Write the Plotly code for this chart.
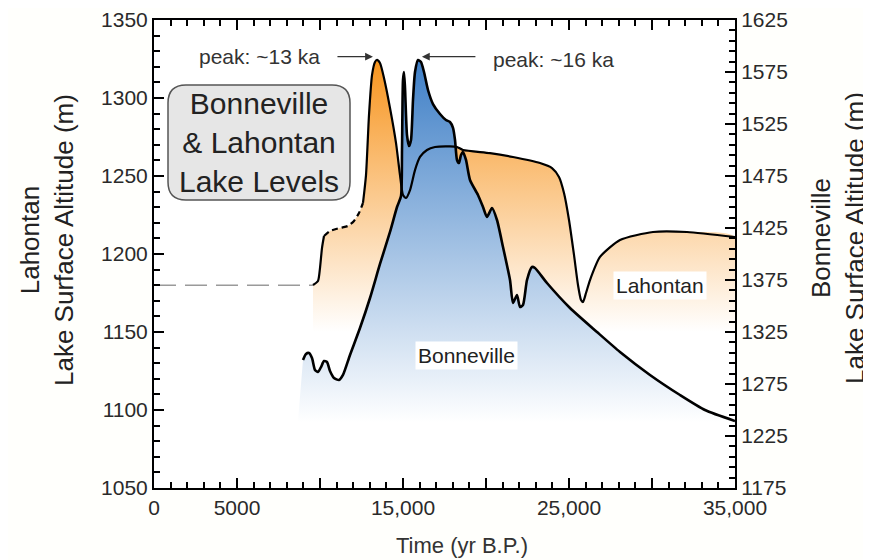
import plotly.graph_objects as go

# ---------------- data ----------------
x_tick_vals = [0, 5000, 10000, 15000, 20000, 25000, 30000, 35000]
x_tick_text = ["0", "5000", "", "15,000", "", "25,000", "", "35,000"]

# Lahontan (left axis, m) -- poorly constrained early level
lahontan_unknown_yr = [0, 9578]
lahontan_unknown_m = [1180, 1180]

lahontan_yr = [9578, 9879, 10000, 10120, 10241, 10602, 11205, 11687, 12048, 12349, 12590,
               12771, 12952, 13133, 13313, 13434, 13614, 13855, 14217, 14578, 14819, 15000,
               15181, 15422, 15723, 16024, 16446, 16928, 17831, 18253, 18614, 20241, 21626,
               23253, 23976, 24397, 24699, 25000, 25301, 25542, 25723, 25843, 26024, 26265,
               26867, 28072, 30060, 32108, 35000]
lahontan_m = [1180.1, 1182.7, 1191.0, 1203.8, 1211.5, 1214.7, 1216.7, 1218.0, 1221.2, 1226.3, 1232.7,
              1250.6, 1289.1, 1314.7, 1323.1, 1324.4, 1322.4, 1312.8, 1293.6, 1271.2, 1250.6, 1237.8,
              1235.9, 1241.0, 1253.8, 1262.2, 1266.7, 1268.6, 1269.0, 1268.6, 1266.7, 1264.7, 1262.2,
              1258.3, 1255.1, 1249.4, 1239.1, 1221.8, 1199.4, 1180.1, 1170.5, 1169.2, 1175.0, 1183.3,
              1198.1, 1209.0, 1214.1, 1214.1, 1210.9]
lahontan_dashed_span = (10241, 12590)

# Bonneville (right axis, m)
bonneville_yr = [8976, 9156, 9337, 9518, 9699, 9879, 10060, 10241, 10422, 10602, 10843, 11144,
                 11385, 11807, 12409, 13012, 13614, 14217, 14639, 14880, 14940, 15000, 15060,
                 15121, 15241, 15361, 15482, 15602, 15723, 15904, 16084, 16265, 16506, 16807,
                 17229, 17590, 17831, 18012, 18133, 18253, 18374, 18494, 18614, 18795, 19036,
                 19518, 19819, 20060, 20361, 20662, 21024, 21446, 21627, 21867, 22048, 22229,
                 22470, 22771, 22952, 23674, 25060, 26687, 28072, 29879, 31687, 33193, 35000]
bonneville_m = [1298.1, 1303.8, 1304.8, 1300.0, 1288.5, 1286.5, 1291.3, 1297.1, 1296.2, 1287.5, 1280.8, 1278.8,
                1283.7, 1302.9, 1328.8, 1357.7, 1390.4, 1421.2, 1445.2, 1455.8, 1500.0, 1567.3, 1575.0,
                1559.6, 1514.4, 1503.8, 1509.6, 1548.1, 1575.0, 1586.5, 1584.6, 1575.0, 1557.7, 1544.2,
                1534.6, 1528.8, 1526.9, 1521.2, 1509.6, 1490.4, 1487.5, 1495.2, 1498.1, 1490.4, 1471.2,
                1456.7, 1445.2, 1435.6, 1444.2, 1432.7, 1406.7, 1375.0, 1352.9, 1360.6, 1349.0, 1351.0,
                1375.0, 1387.5, 1386.5, 1372.1, 1348.1, 1325.0, 1305.8, 1283.7, 1264.4, 1250.0, 1239.4]

LAHONTAN_RANGE = [1050, 1350]
BONNEVILLE_RANGE = [1175, 1625]
LAHONTAN_FILL_BASE = 1140
BONNEVILLE_FILL_BASE = 1228
BONNEVILLE_FILL_START_YR = 8616

# ---------------- styles ----------------
ORANGE = "#F7941D"
BLUE = "#3D7EC6"
FONT = "Liberation Sans, Arial, sans-serif"
W, H = 871, 560
OFF = 8  # page body margin in the browser
PL, PR, PT, PB = 154, 735, 20, 488          # plot area in screen pixels
ML, MR, MT, MB = PL - OFF, W - (PR - OFF), PT - OFF, H - (PB - OFF)
PW, PH = PR - PL, PB - PT


def px(xs, ys):
    """screen pixel -> paper coordinates"""
    return (xs - PL) / PW, (PB - ys) / PH


fig = go.Figure()

# Lahontan fill
lx = lahontan_yr + [lahontan_yr[-1], lahontan_yr[0]]
ly = lahontan_m + [LAHONTAN_FILL_BASE, LAHONTAN_FILL_BASE]
fig.add_trace(go.Scatter(
    x=lx, y=ly, mode="lines", fill="toself", line=dict(width=0, shape="spline", smoothing=0.6),
    fillgradient=dict(type="vertical", colorscale=[[0, "rgba(255,255,255,1)"], [1, ORANGE]],
                      start=1150, stop=1325),
    hoverinfo="skip", showlegend=False, yaxis="y"))

# gray dashed early Lahontan
fig.add_trace(go.Scatter(
    x=lahontan_unknown_yr, y=lahontan_unknown_m, mode="lines",
    line=dict(color="#9a9a9a", width=1.6, dash="22px,9px"), showlegend=False, yaxis="y"))

# Bonneville fill
bx = bonneville_yr + [bonneville_yr[-1], BONNEVILLE_FILL_START_YR]
by = bonneville_m + [BONNEVILLE_FILL_BASE, BONNEVILLE_FILL_BASE]
fig.add_trace(go.Scatter(
    x=bx, y=by, mode="lines", fill="toself", line=dict(width=0, shape="spline", smoothing=0.6),
    fillgradient=dict(type="vertical", colorscale=[[0, "rgba(255,255,255,1)"], [1, BLUE]],
                      start=1238, stop=1590),
    hoverinfo="skip", showlegend=False, yaxis="y2"))

# Bonneville line
fig.add_trace(go.Scatter(
    x=bonneville_yr, y=bonneville_m, mode="lines",
    line=dict(color="black", width=2.6, shape="spline", smoothing=0.6),
    showlegend=False, yaxis="y2"))

# Lahontan line segments (above Bonneville fill)
d0, d1 = lahontan_dashed_span
segs = [
    ([(x, y) for x, y in zip(lahontan_yr, lahontan_m) if x <= d0], "solid"),
    ([(x, y) for x, y in zip(lahontan_yr, lahontan_m) if d0 <= x <= d1], "6px,4px"),
    ([(x, y) for x, y in zip(lahontan_yr, lahontan_m) if x >= d1], "solid"),
]
for pts, dash in segs:
    fig.add_trace(go.Scatter(
        x=[p[0] for p in pts], y=[p[1] for p in pts], mode="lines",
        line=dict(color="black", width=2.2, dash=dash, shape="spline", smoothing=0.6),
        showlegend=False, yaxis="y3"))

tickfont = dict(family=FONT, size=21, color="#2a2a2a")
common = dict(ticks="inside", ticklen=10, tickwidth=2, tickcolor="black",
              showline=True, linewidth=2, linecolor="black",
              showgrid=False, zeroline=False, tickfont=tickfont, automargin=False)
fig.update_layout(
    width=W, height=H,
    margin=dict(l=ML, r=MR, t=MT, b=MB, autoexpand=False),
    paper_bgcolor="#fffffc", plot_bgcolor="white",
    xaxis=dict(range=[0, 35000], tickvals=x_tick_vals, ticktext=x_tick_text, mirror="ticks",
               minor=dict(dtick=1000, tick0=0, ticks="inside", ticklen=6, tickwidth=1.5, tickcolor="black"),
               **common),
    yaxis=dict(range=LAHONTAN_RANGE, tick0=1050, dtick=50,
               minor=dict(dtick=10, tick0=1050, ticks="inside", ticklen=6, tickwidth=1.5, tickcolor="black"),
               **common),
    yaxis2=dict(range=BONNEVILLE_RANGE, tick0=1175, dtick=50, overlaying="y", side="right",
                minor=dict(dtick=10, tick0=1175, ticks="inside", ticklen=6, tickwidth=1.5, tickcolor="black"),
                **common),
    yaxis3=dict(range=LAHONTAN_RANGE, overlaying="y", visible=False, showgrid=False, zeroline=False),
)

# title box (rounded rectangle)
bx0, by0 = px(168, 200)
bx1, by1 = px(350, 85)
rx, ry = 18 / PW, 18 / PH
path = (f"M {bx0+rx},{by0} L {bx1-rx},{by0} Q {bx1},{by0} {bx1},{by0+ry} "
        f"L {bx1},{by1-ry} Q {bx1},{by1} {bx1-rx},{by1} L {bx0+rx},{by1} "
        f"Q {bx0},{by1} {bx0},{by1-ry} L {bx0},{by0+ry} Q {bx0},{by0} {bx0+rx},{by0} Z")
fig.add_shape(type="path", path=path, xref="paper", yref="paper",
              fillcolor="#e6e6e6", line=dict(color="#555", width=1.5), layer="above")

C = dict(xanchor="center", yanchor="middle", showarrow=False)
ann = []
cx, cy = px(259, 143)
ann.append(dict(x=cx, y=cy, xref="paper", yref="paper",
                text="Bonneville<br>&amp; Lahontan<br>Lake Levels",
                font=dict(family=FONT, size=30, color="#222"), **C))

# axis titles
lx_, ly_ = px(47, 240)
ann.append(dict(x=lx_, y=ly_, xref="paper", yref="paper", textangle=-90,
                text="Lahontan<br>Lake Surface Altitude (m)", font=dict(family=FONT, size=26, color="#222"), **C))
rx_, ry_ = px(838, 238)
ann.append(dict(x=rx_, y=ry_, xref="paper", yref="paper", textangle=-90,
                text="Bonneville<br>Lake Surface Altitude (m)", font=dict(family=FONT, size=26, color="#222"), **C))
tx_, ty_ = px(462, 545)
ann.append(dict(x=tx_, y=ty_, xref="paper", yref="paper",
                text="Time (yr B.P.)", font=dict(family=FONT, size=22, color="#333"), **C))

# peak annotations
ann.append(dict(x=6350, y=1326.5, xref="x", yref="y", text="peak: ~13 ka",
                font=dict(family=FONT, size=21, color="#333"), **C))
ann.append(dict(x=13190, y=1326.5, xref="x", yref="y", showarrow=True, ax=-37, ay=0, text="",
                arrowhead=2, arrowsize=1.2, arrowwidth=1.3, arrowcolor="#333"))
ann.append(dict(x=24050, y=1324.5, xref="x", yref="y", text="peak: ~16 ka",
                font=dict(family=FONT, size=21, color="#333"), **C))
ann.append(dict(x=16140, y=1326.5, xref="x", yref="y", showarrow=True, ax=55, ay=0, text="",
                arrowhead=2, arrowsize=1.2, arrowwidth=1.3, arrowcolor="#333"))

# lake labels
ann.append(dict(x=18800, y=1135, xref="x", yref="y", text="Bonneville",
                bgcolor="white", borderpad=2, font=dict(family=FONT, size=21, color="#222"), **C))
ann.append(dict(x=30500, y=1180, xref="x", yref="y", text="Lahontan",
                bgcolor="white", borderpad=2, font=dict(family=FONT, size=21, color="#222"), **C))

fig.update_layout(annotations=ann)
fig.write_html("out.html")
